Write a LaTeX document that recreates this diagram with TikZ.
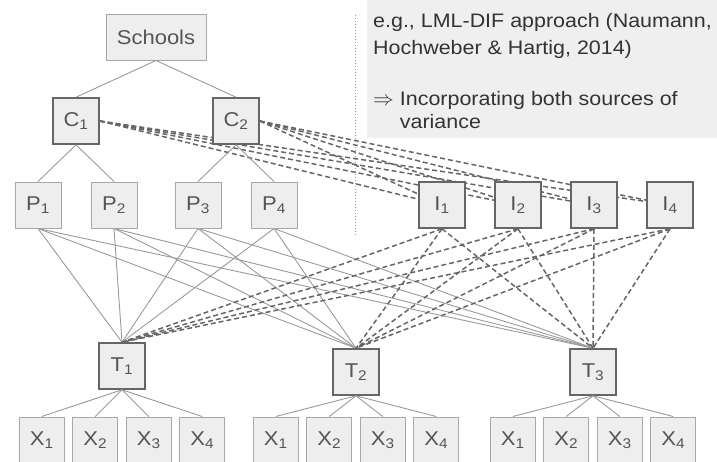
\documentclass[tikz,border=0pt]{standalone}
\usepackage{fontspec}
\setmainfont{Liberation Sans}[FakeStretch=1.1]
\usepackage{tikz}
\usetikzlibrary{backgrounds}
\definecolor{boxfill}{HTML}{EEEEEE}
\definecolor{lightedge}{HTML}{A8A8A8}
\definecolor{darkedge}{HTML}{666666}
\definecolor{linkgray}{HTML}{9A9A9A}
\definecolor{labelgray}{HTML}{555555}
\definecolor{notefill}{HTML}{EFEFEF}
\definecolor{notetext}{HTML}{333333}

\begin{document}
\begin{tikzpicture}[x=1pt, y=-1pt, every node/.style={rectangle, fill=boxfill, minimum size=46pt, inner sep=1pt, text=labelgray, font=\fontsize{20}{24}\selectfont}, lbox/.style={draw=lightedge, line width=1pt}, dbox/.style={draw=darkedge, line width=1.6pt}, xbox/.style={lbox, minimum width=45pt}, parent anchor=south, child anchor=north, edge from parent/.style={draw=linkgray, line width=0.9pt}, solidlink/.style={draw=linkgray, line width=0.9pt}, dashlink/.style={draw=darkedge, line width=1.5pt, dash pattern=on 5pt off 3pt}]
      \useasboundingbox (0,0) rectangle (717,461);
      \node[lbox, minimum width=100pt] (schools) at (156,37) {Schools}
        [level distance=84pt, level 1/.style={sibling distance=160pt}, level 2/.style={sibling distance=76pt}]
        child {node[dbox] (c1) {C\textsubscript{1}}
          child {node[lbox] (p1) {P\textsubscript{1}}}
          child {node[lbox] (p2) {P\textsubscript{2}}}
        }
        child {node[dbox] (c2) {C\textsubscript{2}}
          child {node[lbox] (p3) {P\textsubscript{3}}}
          child {node[lbox] (p4) {P\textsubscript{4}}}
        };
      \foreach \i in {1,...,4}
        \node[dbox] (i\i) at ({442+76*(\i-1)},205) {I\textsubscript{\i}};
      \node[dbox] (t1) at (122,366) {T\textsubscript{1}}
        [level distance=74pt, sibling distance=53.5pt]
        child foreach \x in {1,...,4} {node[xbox] (t1x\x) {X\textsubscript{\x}}};
      \node[dbox] (t2) at (356,372) {T\textsubscript{2}}
        [level distance=68pt, sibling distance=53.5pt]
        child foreach \x in {1,...,4} {node[xbox] (t2x\x) {X\textsubscript{\x}}};
      \node[dbox] (t3) at (593,372) {T\textsubscript{3}}
        [level distance=68pt, sibling distance=53.5pt]
        child foreach \x in {1,...,4} {node[xbox] (t3x\x) {X\textsubscript{\x}}};
      \node[fill=notefill, anchor=north west, minimum width=350pt, minimum height=138pt] (note) at (367,0) {};
      \node[fill=none, anchor=west, inner xsep=6pt, inner ysep=0pt, align=left, text=notetext, font=\fontsize{19.5}{27}\selectfont] (notetext) at ([yshift=-2pt]note.west)
        {e.g., LML-DIF approach (Naumann,\\
         Hochweber \& Hartig, 2014)\\[24pt]
         $\Rightarrow$ Incorporating both sources of\\[-4pt]
         \hphantom{$\Rightarrow$ }variance};
      \coordinate (sep top) at (355,15);
      \coordinate (sep bottom) at (355,235);
      \draw[linkgray, line width=1pt, dotted] (sep top) -- (sep bottom);
      \begin{scope}[on background layer]
        \foreach \p in {1,...,4}
          \foreach \t in {1,2,3}
            \draw[solidlink] (p\p.south) -- (t\t.north);
        \foreach \c in {1,2}
          \foreach \i in {1,...,4}
            \draw[dashlink] (c\c.east) -- (i\i);
        \foreach \i in {1,...,4}
          \foreach \t in {1,2,3}
            \draw[dashlink] (i\i.south) -- (t\t.north);
      \end{scope}
    \end{tikzpicture}
\end{document}
